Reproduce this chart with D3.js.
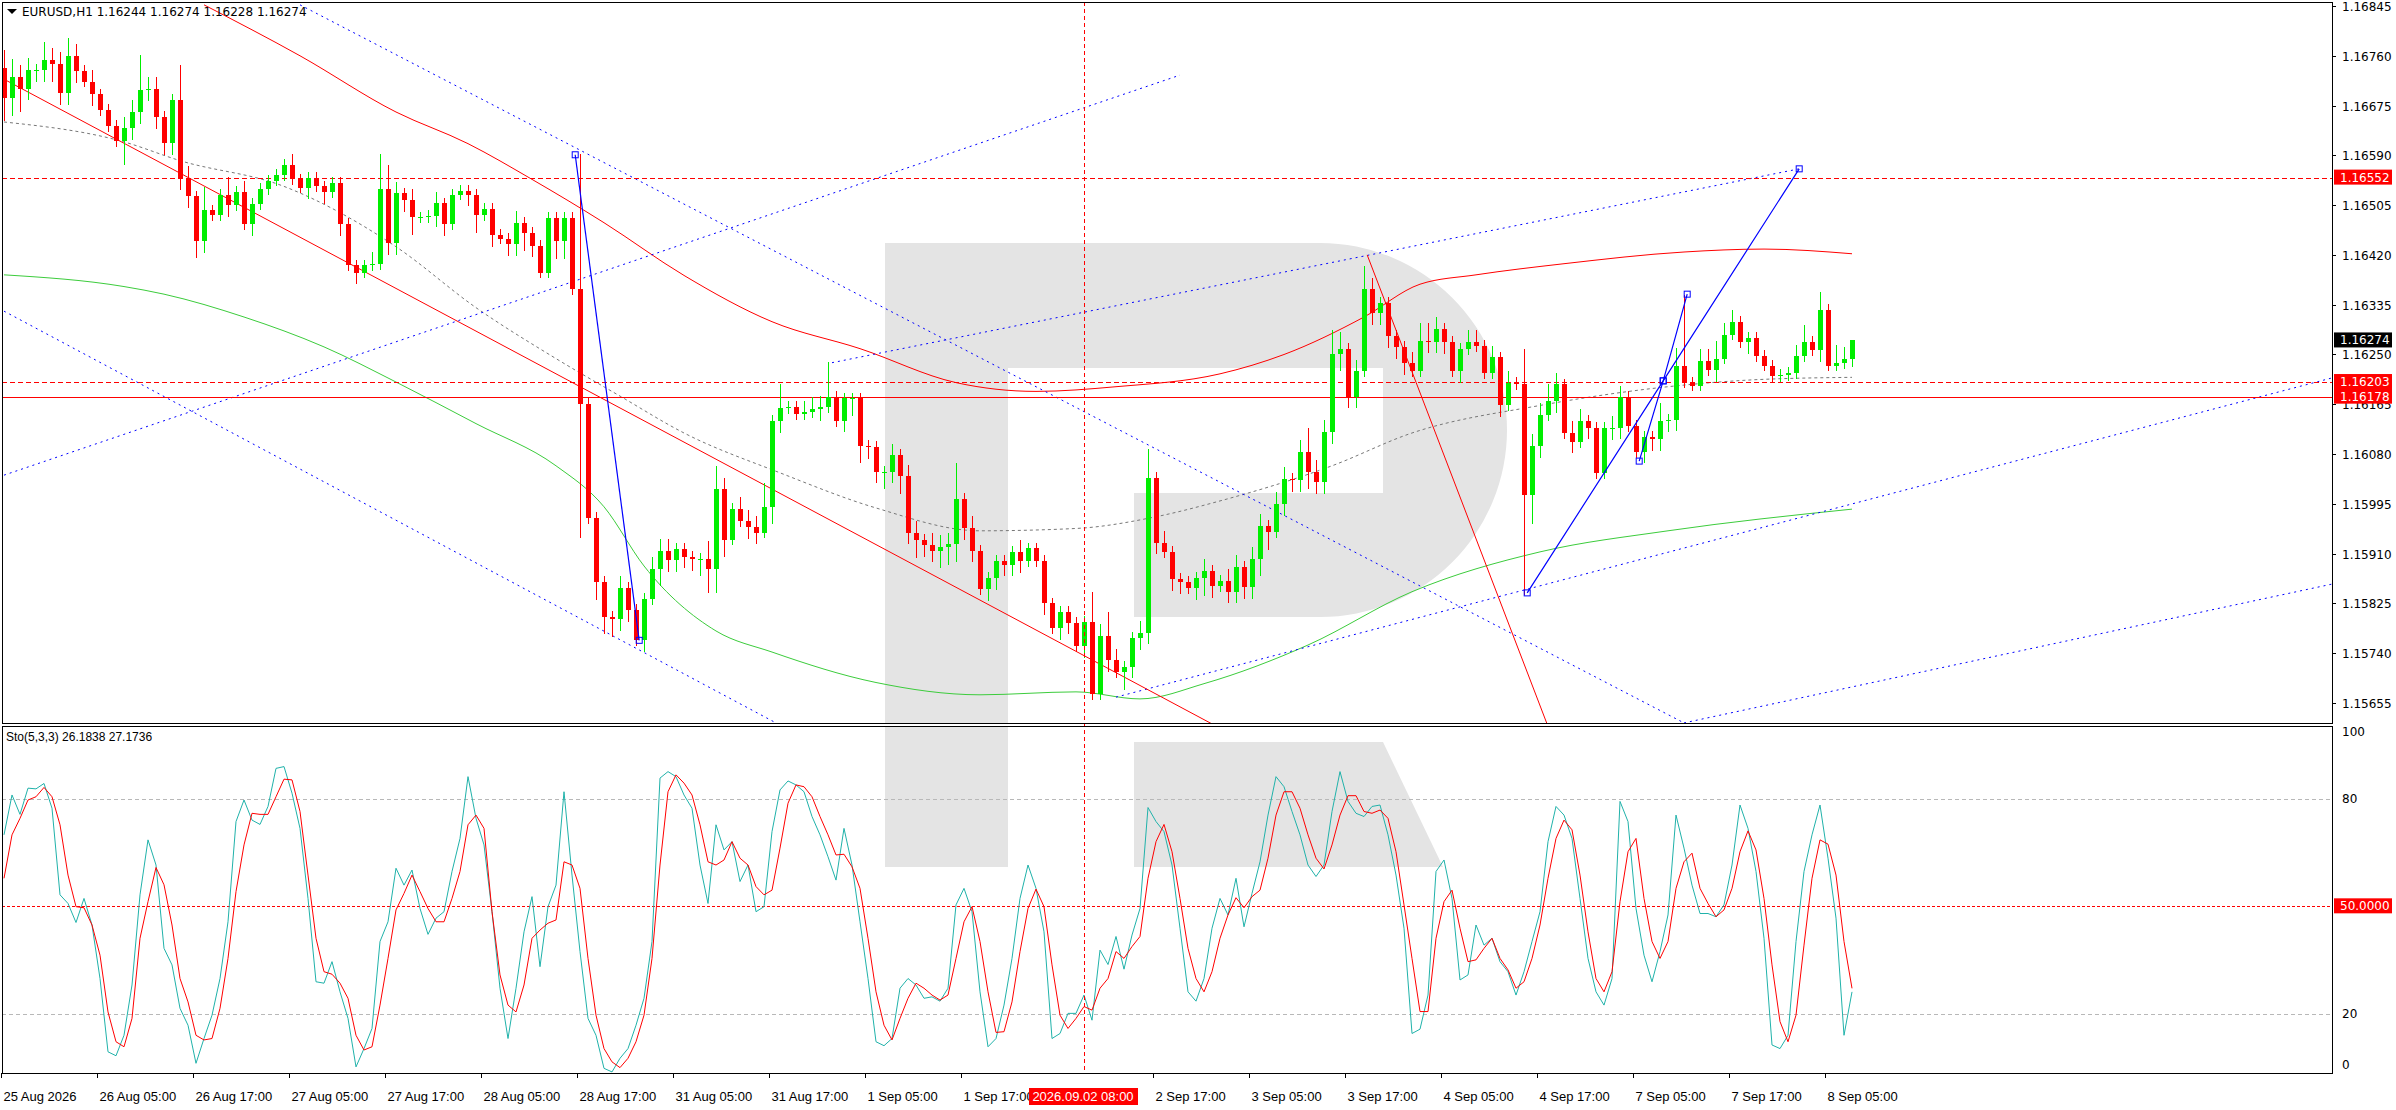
<!DOCTYPE html>
<html>
<head>
<meta charset="utf-8">
<script src="https://cdn.jsdelivr.net/npm/d3@7"></script>
<style>
  html, body { margin: 0; padding: 0; background: #fff; }
  svg { display: block; font-family: "DejaVu Sans", Tahoma, sans-serif; }
</style>
</head>
<body>
<svg id="chart" width="2396" height="1110"></svg>
<script>
/* ── data: EURUSD H1 closes, in points (1e-5) ── */
const firstOpenPts = 116740;
const closePts = [
  116688,116724,116704,116736,116736,116753,116746,116696,116760,116734,
  116716,116694,116668,116640,116614,116636,116664,116702,116704,116655,
  116611,116684,116551,116520,116444,116496,116488,116523,116505,116527,
  116473,116507,116533,116547,116557,116573,116549,116535,116551,116537,
  116527,116543,116473,116402,116390,116402,116405,116533,116440,116525,
  116513,116484,116484,116487,116508,116473,116523,116529,116523,116488,
  116499,116454,116448,116438,116475,116457,116436,116390,116483,116443,
  116483,116362,116166,115971,115861,115802,115798,115852,115814,115762,
  115833,115884,115915,115899,115918,115905,115901,115901,115883,116020,
  115934,115987,115965,115955,115946,115990,116136,116159,116161,116149,
  116151,116157,116160,116177,116137,116175,116175,116094,116092,116050,
  116050,116078,116042,115946,115933,115925,115915,115921,115926,116004,
  115954,115915,115849,115868,115897,115891,115913,115897,115919,115897,
  115825,115783,115810,115792,115752,115794,115670,115770,115728,115708,
  115717,115766,115775,116039,115929,115913,115867,115861,115851,115868,
  115881,115855,115863,115845,115887,115853,115901,115958,115947,115995,
  116038,116036,116084,116050,116032,116118,116251,116259,116178,116221,
  116361,116321,116338,116281,116263,116235,116222,116273,116272,116294,
  116271,116221,116260,116272,116265,116219,116245,116163,116201,116199,
  116010,116094,116147,116170,116199,116116,116101,116137,116125,116048,
  116124,116125,116177,116128,116084,116110,116106,116137,116139,116231,
  116202,116197,116239,116223,116243,116284,116306,116271,116279,116248,
  116231,116213,116215,116219,116247,116271,116257,116326,116231,116236,
  116243,116274
];
// wick lengths in pips above the body top / below the body bottom
const wickUp = [
  3,3,2,2,1,3,2,2,3,2, 1,2,1,1,1,2,2,6,2,2,
  1,1,6,2,1,4,1,1,3,1, 2,1,1,1,1,1,2,1,1,1,
  1,1,1,1,1,1,2,6,4,2, 1,2,1,1,2,1,1,1,1,1,
  1,1,1,1,2,1,1,1,1,1, 1,1,23,1,1,1,1,2,1,1,
  1,2,2,2,1,1,1,1,3,4, 2,1,2,2,2,4,1,4,1,1,
  2,2,2,6,1,1,1,1,1,1, 1,2,1,2,2,1,2,2,2,6,
  1,2,1,1,1,1,1,2,1,1, 1,1,1,1,1,1,5,2,4,2,
  1,1,2,5,1,2,1,1,1,1, 2,1,1,2,2,1,2,2,1,2,
  2,1,2,4,2,2,4,3,1,2, 4,2,1,1,1,1,2,3,3,2,
  1,1,1,2,2,1,2,1,2,1, 6,2,2,3,2,1,2,2,1,1,
  1,2,2,1,1,1,1,3,1,3, 12,1,2,2,3,2,2,1,1,1,
  1,1,1,1,2,3,1,3,1,3, 2,0
];
const wickDn = [
  4,3,4,2,2,2,3,2,2,2, 1,2,1,1,1,4,2,2,2,2,
  2,2,2,2,3,2,1,1,2,1, 1,2,1,1,1,1,1,1,2,1,
  2,1,2,1,2,1,1,1,2,2, 2,3,1,1,2,2,1,1,2,3,
  1,2,1,2,2,3,2,1,1,3, 3,1,23,1,3,3,3,2,2,1,
  2,1,3,2,2,2,2,3,4,4, 3,1,1,2,2,1,3,2,1,1,
  1,1,2,1,1,2,3,3,2,2, 3,2,3,2,3,2,2,3,3,3,
  2,2,1,2,2,2,2,2,1,1, 2,1,2,2,1,2,1,1,2,1,
  3,2,2,2,2,1,2,2,1,2, 3,2,1,2,2,2,2,3,3,1,
  2,2,2,3,2,2,2,3,2,2, 1,2,2,2,2,2,1,1,2,2,
  2,1,2,1,1,1,1,2,1,1, 17,5,2,1,2,1,2,1,2,1,
  1,2,2,1,1,2,2,2,2,2, 1,1,1,1,2,1,1,1,2,1,
  1,1,1,1,1,1,1,2,1,1, 1,1.5
];

// moving averages: [bar, price]
const maRed = [[25,1.16847],[37,1.16760],[49,1.16664],[58,1.16610],[66,1.16549],[75,1.16475],[85,1.16385],[96,1.16306],[107,1.16260],[119,1.16202],[129,1.16187],[139,1.16195],[152,1.16217],[160,1.16250],[170,1.16314],[177,1.16370],[184,1.16386],[195,1.16405],[210,1.16425],[220,1.16430],[231,1.16422]];
const maGreen = [[0,1.16386],[15,1.16366],[20,1.16353],[30,1.16314],[40,1.16263],[49,1.16203],[59,1.16132],[69,1.16060],[75,1.15990],[80,1.15889],[89,1.15778],[96,1.15742],[109,1.15690],[122,1.15669],[134,1.15674],[142,1.15662],[150,1.15688],[163,1.15754],[176,1.15845],[192,1.15913],[208,1.15949],[231,1.15986]];
const maGray = [[0,1.16647],[15,1.16613],[22,1.16581],[35,1.16537],[49,1.16434],[59,1.16330],[69,1.16243],[77,1.16179],[85,1.16116],[97,1.16048],[109,1.15988],[122,1.15949],[134,1.15953],[144,1.15973],[152,1.16000],[166,1.16060],[176,1.16116],[192,1.16163],[208,1.16195],[219,1.16207],[231,1.16211]];

// drawn objects: [bar, price] pairs
const blueDotted = [
  [[37,1.16847],[210,1.15621]],
  [[0,1.16324],[96.5,1.15621]],
  [[0,1.16044],[147,1.16727]],
  [[103.5,1.16236],[224.4,1.16567]],
  [[139,1.15665],[291,1.16210]],
  [[210,1.15621],[291,1.15858]]
];
const redTrend = [
  [[0,1.16720],[152,1.15612]],
  [[170.4,1.16420],[193,1.15615]]
];
const blueSolid = [
  [[71.4,1.16591],[79.4,1.15762]],
  [[190.4,1.15843],[207.4,1.16205],[224.4,1.16567]],
  [[204.4,1.16068],[207.4,1.16205],[210.4,1.16353]]
];
const levelDashed = [1.16552, 1.16203];
const levelSolid = 1.16178;
const crossBar = 135;

// stochastic (5,3,3)
const stoK = [
  69.9,81,75.6,82.9,82.7,84.2,77.3,53.2,50.8,45.5,
  52.2,44.8,29.9,9.5,8.4,14.1,28.1,53.2,68.5,61.5,
  38.3,33.7,21.6,16.9,6.3,13.2,19.7,29.9,45.7,73.6,
  79.6,74,72.8,77.8,88.4,88.9,81.5,71.7,52.2,29,
  28.6,34.6,26.2,18.8,5.3,10.4,16,40.2,45.7,60.6,
  55.9,60.1,49.4,42.2,46.7,48.5,59.7,68.9,86.1,74.5,
  67.1,48.5,27.2,13.2,27.2,42.9,52.7,33.2,49.9,55.9,
  81.9,58.7,37.4,18.8,14.1,4.9,3.9,7.7,10.4,16.9,
  24.4,40.2,85.7,87.5,86.1,81,77.3,61.5,50.8,72.7,
  65.7,68,56.9,61.5,48.5,49.9,70.8,82.4,84.9,83.8,
  81.9,75,69.9,63.8,57.3,71.7,61.5,45.7,29.9,12.3,
  11.2,13.2,27.2,29.9,28.1,24.4,
  24.8,23.6,27.2,50.4,55,48.5,26.2,10.9,13.2,22.5,
  35.5,52.2,61.5,55,42.9,13.2,14.6,20.2,20.2,25.3,
  18.3,37.8,33.8,41.6,32.5,42,49.4,77.5,73.6,70.8,
  61.5,43.9,26.2,23.6,29.9,43.9,52.2,47.6,57.8,44.3,
  53.6,62.4,75.4,86.1,83.3,76.4,69.9,61.5,58.3,61.5,
  76.4,87.5,79.2,75.9,75,77.8,78.2,69.9,58.7,43.9,
  14.6,15.8,25.3,59.7,62.9,52.2,29.5,30.9,44.8,39.2,
  41.1,34.6,31.8,25.3,31.8,40.2,48.5,68,77.8,75.4,
  68.9,52.2,35.5,26.2,22.5,29.9,79.2,73.6,49.4,36.4,
  29,37.4,47.6,75.4,66.2,55.9,48,48,47.1,50.4,
  61.5,78.2,71.7,59.7,41.1,11.4,10.4,14.1,40.2,59.7,
  69.9,78.2,63.4,46.7,14.1,26.18
];
const stoD = [
  57.8,69.9,74.5,79.6,80.5,83.1,80.5,72.7,58.7,49.9,
  49.6,44.8,36.4,20.6,12.3,10.9,18.8,41.1,51.3,60.8,
  56,44.8,29.9,23.4,14.1,12.8,13.2,21.6,35.5,54.1,
  67.1,75.9,75.6,75.6,80.5,85.4,85.2,76.4,58.7,41.1,
  31.8,31.1,28.6,24.4,14.1,10,10.9,22.5,35.5,49,
  53.6,58.7,54.1,49.4,45.7,45.7,52.2,59.7,72.7,75.4,
  71.7,48.5,30.9,22.5,20.6,28.1,41.1,43.4,45.3,46.2,
  62.4,61.5,55,35.5,19.7,10.4,6.7,5.1,7.7,12.3,
  19.7,35.5,61.5,81.9,86.6,84.3,81,72.7,62.4,61.5,
  62.9,68,63.4,61.5,55.5,53.2,54.5,66.2,78.7,83.8,
  83.3,80.5,75,69.9,64.3,64.5,61,55,41.1,26.2,
  16.9,12.8,18.8,24.4,28.6,27.2,25.3,23.9,
  25.3,35.5,45.7,49.9,40.2,26.2,14.9,15.1,23.4,37.4,
  49.4,54.8,49.9,33.7,19.7,16,18.8,22.1,21.1,27.2,
  29.9,37.4,35.5,38.8,41.6,57.8,68,72.8,65.2,52.2,
  38.3,29.9,26.2,31.8,41.1,47.6,52.4,49.6,52.7,54.5,
  63.4,75.4,81.9,81.9,77.3,69.9,63.4,60.4,67.1,75.4,
  80.8,80.8,76.4,75.9,76.8,74.5,65.2,50.4,35.5,20.7,
  20.7,41.1,51.3,54.5,43.9,34.6,35.1,38.3,41.1,35.5,
  32.3,27.2,29,35.5,44.8,57.8,68.9,74,71.3,58.7,
  42.9,29.9,26.2,31.8,51.3,65.2,68.9,52.2,40.2,35.5,
  40.2,55,62.4,64.8,55,50.8,47.1,49,55,65.2,
  71,65.7,52.2,33.7,17.9,12.3,19.7,39.2,57.8,68.5,
  67.3,58.7,40.2,27.17
];

const priceTicks = [1.16845,1.16760,1.16675,1.16590,1.16505,1.16420,1.16335,1.16250,1.16165,1.16080,1.15995,1.15910,1.15825,1.15740,1.15655];
const timeLabels = ["25 Aug 2026","26 Aug 05:00","26 Aug 17:00","27 Aug 05:00","27 Aug 17:00","28 Aug 05:00","28 Aug 17:00","31 Aug 05:00","31 Aug 17:00","1 Sep 05:00","1 Sep 17:00","","2 Sep 17:00","3 Sep 05:00","3 Sep 17:00","4 Sep 05:00","4 Sep 17:00","7 Sep 05:00","7 Sep 17:00","8 Sep 05:00"];
const stoLevels = [80, 50, 20];

/* ── layout ── */
const svg = d3.select("#chart");
const L = 2, R = 2332;
const mainTop = 2, mainBot = 723, stoTop = 726, stoBot = 1073;
const GREEN = "#00ee00", RED = "#ff0000", BLUE = "#0000ff";

const x = d3.scaleLinear().domain([0, 291]).range([4, 4 + 8 * 291]);
const y = d3.scaleLinear().domain([1.16845, 1.15655]).range([6, 703]);
const ys = d3.scaleLinear().domain([3.6, 100.2]).range([stoBot, stoTop]);

const bars = closePts.map((c, i) => {
  const o = (i === 0 ? firstOpenPts : closePts[i - 1]) / 1e5;
  const cl = c / 1e5;
  return { i, o, c: cl, h: Math.max(o, cl) + wickUp[i] / 1e4, l: Math.min(o, cl) - wickDn[i] / 1e4 };
});

svg.append("defs").html(`
  <clipPath id="clipMain"><rect x="${L}" y="${mainTop}" width="${R - L}" height="${mainBot - mainTop}"/></clipPath>
  <clipPath id="clipSto"><rect x="${L}" y="${stoTop}" width="${R - L}" height="${stoBot - stoTop}"/></clipPath>`);

// watermark
const wm = svg.append("g").attr("fill", "#e4e4e4");
wm.append("rect").attr("x", 885).attr("y", 243).attr("width", 123).attr("height", mainBot - 243);
wm.append("rect").attr("x", 885).attr("y", stoTop).attr("width", 123).attr("height", 867 - stoTop);
wm.append("path").attr("d", "M1008,243 H1320 A187,187 0 0 1 1320,617 H1134 V493 H1008 Z");
wm.append("rect").attr("x", 1008).attr("y", 368).attr("width", 375).attr("height", 125).attr("fill", "#fff");
wm.append("path").attr("d", "M1134,742 H1383 L1443,867 H1134 Z");

// main panel
const gm = svg.append("g").attr("clip-path", "url(#clipMain)");
const lineXY = d3.line().x(d => x(d[0])).y(d => y(d[1]));

gm.append("path").attr("d", lineXY.curve(d3.curveMonotoneX)(maGray)).attr("fill", "none")
  .attr("stroke", "#777").attr("stroke-dasharray", "3,3");
gm.append("path").attr("d", lineXY.curve(d3.curveMonotoneX)(maGreen)).attr("fill", "none").attr("stroke", "#3ccc3c");
gm.append("path").attr("d", lineXY.curve(d3.curveMonotoneX)(maRed)).attr("fill", "none").attr("stroke", RED);
lineXY.curve(d3.curveLinear);

blueDotted.forEach(seg => gm.append("path").attr("d", lineXY(seg)).attr("fill", "none")
  .attr("stroke", BLUE).attr("stroke-dasharray", "2,4"));
redTrend.forEach(seg => gm.append("path").attr("d", lineXY(seg)).attr("fill", "none").attr("stroke", RED));

levelDashed.forEach(p => gm.append("line").attr("x1", L).attr("x2", R).attr("y1", Math.round(y(p)) + .5).attr("y2", Math.round(y(p)) + .5)
  .attr("stroke", RED).attr("stroke-dasharray", "5,3"));
gm.append("line").attr("x1", L).attr("x2", R).attr("y1", Math.round(y(levelSolid)) + .5).attr("y2", Math.round(y(levelSolid)) + .5).attr("stroke", RED);

// candles
const cg = gm.append("g").attr("shape-rendering", "crispEdges");
const cand = cg.selectAll("g").data(bars).join("g");
cand.append("line")
  .attr("x1", d => Math.round(x(d.i)) + .5).attr("x2", d => Math.round(x(d.i)) + .5)
  .attr("y1", d => y(d.h)).attr("y2", d => y(d.l))
  .attr("stroke", d => d.c >= d.o ? GREEN : RED);
cand.append("rect")
  .attr("x", d => Math.round(x(d.i)) - 2).attr("width", 5)
  .attr("y", d => y(Math.max(d.o, d.c)))
  .attr("height", d => Math.max(1, Math.abs(y(d.o) - y(d.c))))
  .attr("fill", d => d.c >= d.o ? GREEN : RED);

blueSolid.forEach(seg => {
  gm.append("path").attr("d", lineXY(seg)).attr("fill", "none").attr("stroke", BLUE).attr("stroke-width", 1.2);
  seg.forEach(p => gm.append("rect").attr("x", x(p[0]) - 3).attr("y", y(p[1]) - 3).attr("width", 6).attr("height", 6)
    .attr("fill", "none").attr("stroke", BLUE));
});

// sto panel
const gs = svg.append("g").attr("clip-path", "url(#clipSto)");
stoLevels.forEach(v => gs.append("line").attr("x1", L).attr("x2", R)
  .attr("y1", Math.round(ys(v)) + .5).attr("y2", Math.round(ys(v)) + .5)
  .attr("stroke", v === 50 ? RED : "#b8b8b8").attr("stroke-dasharray", v === 50 ? "3,2" : "4,3"));
const stoLine = d3.line().x((d, i) => x(i)).y(d => ys(d));
gs.append("path").attr("d", stoLine(stoK)).attr("fill", "none").attr("stroke", "#20b2aa");
gs.append("path").attr("d", stoLine(stoD)).attr("fill", "none").attr("stroke", RED);

// crosshair
svg.append("line").attr("x1", Math.round(x(crossBar)) + .5).attr("x2", Math.round(x(crossBar)) + .5)
  .attr("y1", mainTop).attr("y2", stoBot).attr("stroke", RED).attr("stroke-dasharray", "4,3");

// frames
const frame = svg.append("g").attr("fill", "none").attr("stroke", "#000").attr("shape-rendering", "crispEdges");
frame.append("rect").attr("x", L + .5).attr("y", mainTop + .5).attr("width", R - L).attr("height", mainBot - mainTop);
frame.append("rect").attr("x", L + .5).attr("y", stoTop + .5).attr("width", R - L).attr("height", stoBot - stoTop);

// price axis
const ax = svg.append("g").attr("font-size", 12).attr("fill", "#000");
priceTicks.forEach(p => {
  const yy = Math.round(y(p)) + .5;
  ax.append("line").attr("x1", R).attr("x2", R + 4).attr("y1", yy).attr("y2", yy).attr("stroke", "#000");
  ax.append("text").attr("x", R + 10).attr("y", yy + 4).text(p.toFixed(5));
});
function priceTag(p, bg) {
  const yy = y(p);
  ax.append("rect").attr("x", R + 2).attr("y", yy - 8).attr("width", 58).attr("height", 15).attr("fill", bg);
  ax.append("text").attr("x", R + 8).attr("y", yy + 4).attr("fill", "#fff").text(p.toFixed(5));
}
priceTag(1.16552, RED);
priceTag(1.16274, "#000");
priceTag(1.16203, RED);
priceTag(1.16178, RED);

// sto axis
[[100, stoTop + 10], [80, ys(80) + 4], [20, ys(20) + 4], [0, stoBot - 4]].forEach(([v, yy]) => {
  ax.append("text").attr("x", R + 10).attr("y", yy).text(v);
});
ax.append("rect").attr("x", R + 2).attr("y", ys(50) - 8).attr("width", 58).attr("height", 15).attr("fill", RED);
ax.append("text").attr("x", R + 8).attr("y", ys(50) + 4).attr("fill", "#fff").text("50.0000");

// time axis
const tx = svg.append("g").attr("font-family", "'Liberation Sans Narrow', 'Liberation Sans', sans-serif").attr("font-size", 13);
timeLabels.forEach((t, k) => {
  const xx = Math.round(x(k * 12)) - 2.5;
  if (!t) return;
  tx.append("line").attr("x1", xx).attr("x2", xx).attr("y1", stoBot).attr("y2", stoBot + 5).attr("stroke", "#000");
  tx.append("text").attr("x", xx + 2).attr("y", 1101).text(t);
});
tx.append("rect").attr("x", 1029).attr("y", 1088).attr("width", 109).attr("height", 17).attr("fill", RED);
tx.append("text").attr("x", 1083).attr("y", 1101).attr("text-anchor", "middle").attr("fill", "#fff").text("2026.09.02 08:00");

// headers
svg.append("path").attr("d", "M7,9 H17 L12,14 Z").attr("fill", "#000");
svg.append("text").attr("x", 22).attr("y", 16).attr("font-size", 12).text("EURUSD,H1  1.16244 1.16274 1.16228 1.16274");
svg.append("text").attr("x", 6).attr("y", 741).attr("font-size", 12)
  .attr("font-family", "'Liberation Sans Narrow', 'Liberation Sans', sans-serif").text("Sto(5,3,3) 26.1838 27.1736");
</script>
</body>
</html>
